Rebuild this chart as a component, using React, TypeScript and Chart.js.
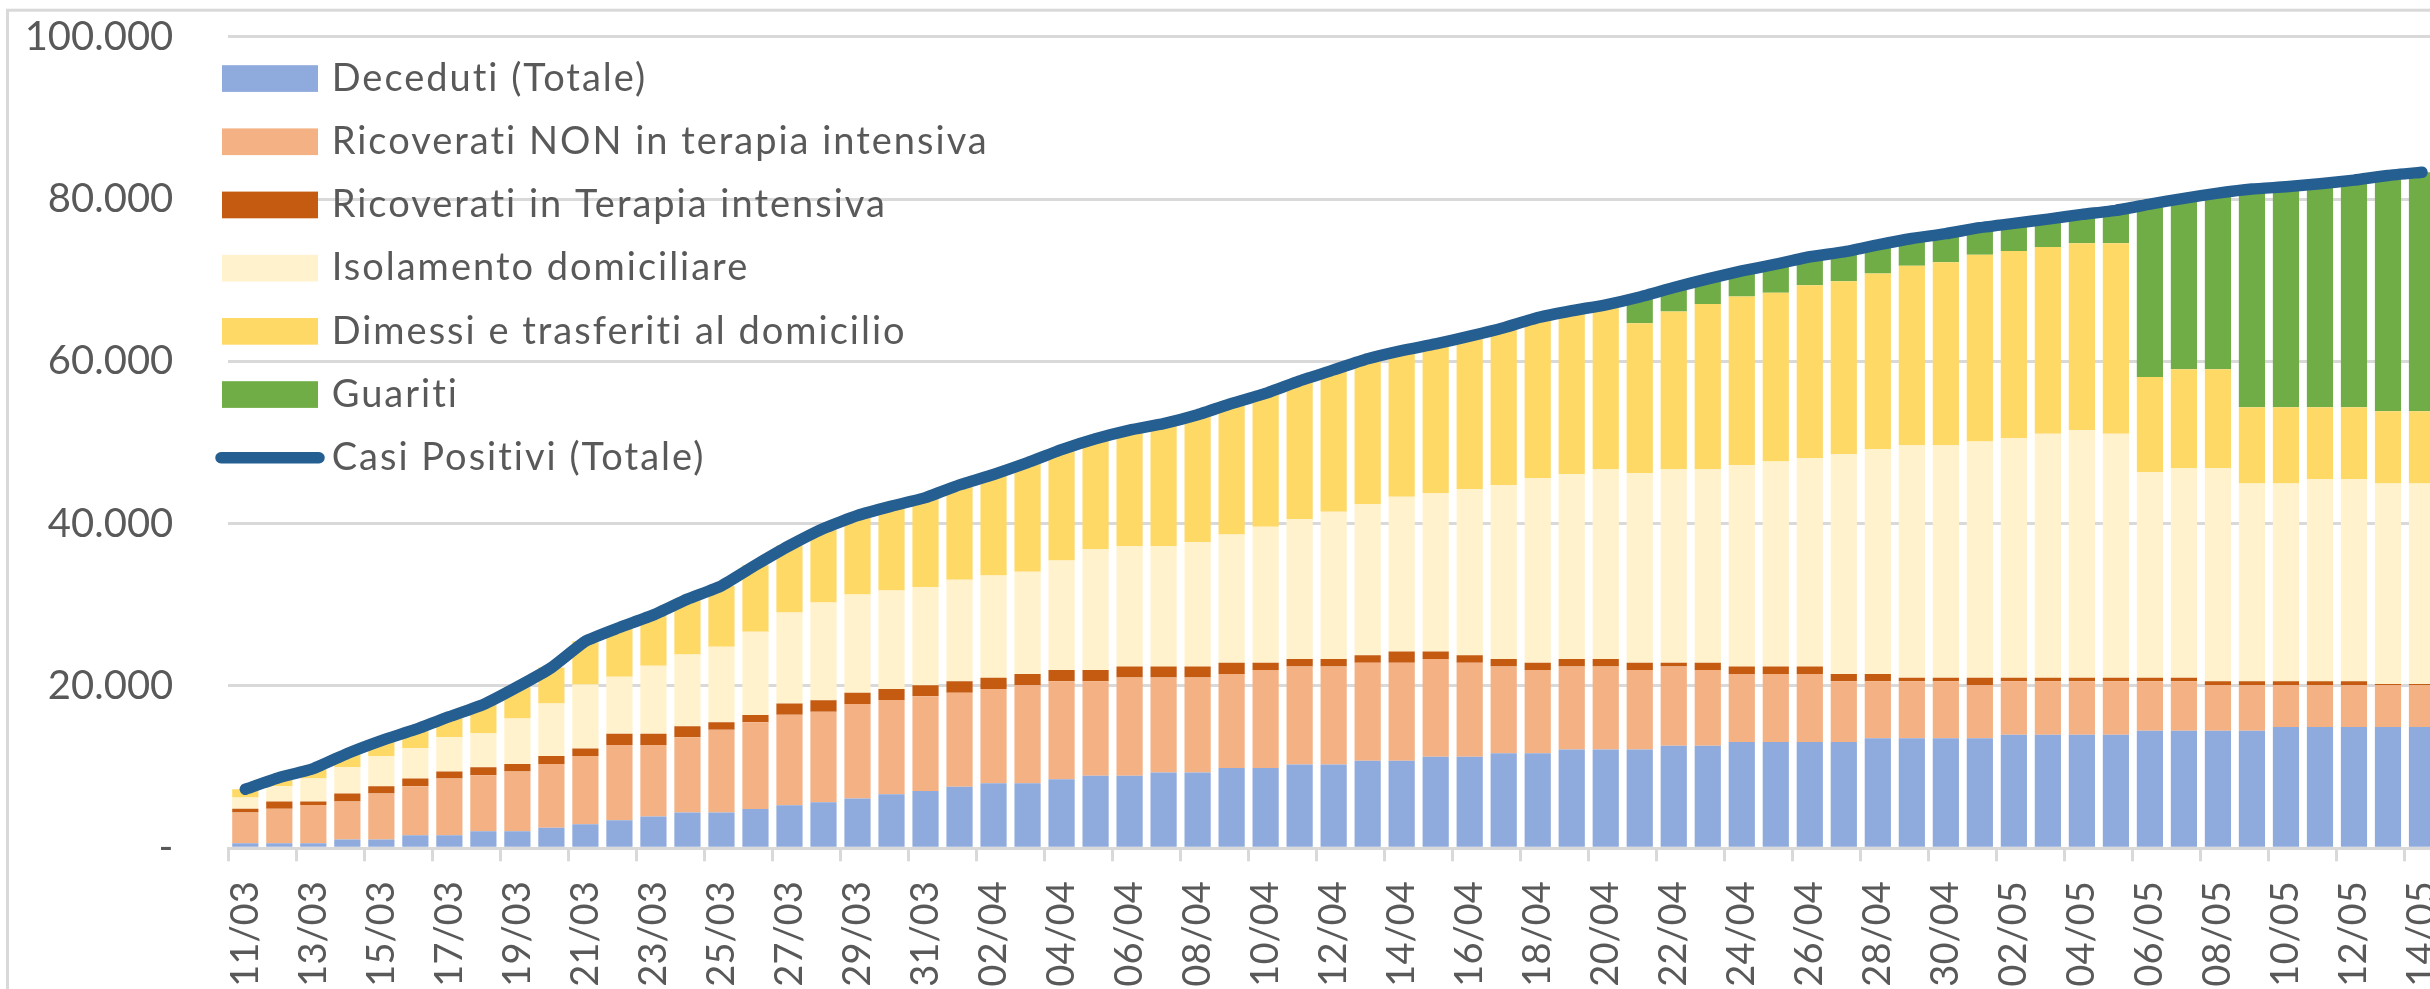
import React, { useEffect, useRef } from 'react';
import { Chart, registerables } from 'chart.js';

Chart.register(...registerables);

const dates = [
  '11/03', '12/03', '13/03', '14/03', '15/03', '16/03', '17/03', '18/03', '19/03', '20/03',
  '21/03', '22/03', '23/03', '24/03', '25/03', '26/03', '27/03', '28/03', '29/03', '30/03',
  '31/03', '01/04', '02/04', '03/04', '04/04', '05/04', '06/04', '07/04', '08/04', '09/04',
  '10/04', '11/04', '12/04', '13/04', '14/04', '15/04', '16/04', '17/04', '18/04', '19/04',
  '20/04', '21/04', '22/04', '23/04', '24/04', '25/04', '26/04', '27/04', '28/04', '29/04',
  '30/04', '01/05', '02/05', '03/05', '04/05', '05/05', '06/05', '07/05', '08/05', '09/05',
  '10/05', '11/05', '12/05', '13/05', '14/05',
];

const deceduti = [
  630, 630, 630, 1090, 1090, 1600, 1600, 2100, 2100, 2530,
  2950, 3450, 3920, 4420, 4420, 4840, 5310, 5680, 6150, 6650,
  7070, 7580, 8000, 8000, 8500, 8930, 8930, 9350, 9350, 9890,
  9890, 10320, 10320, 10780, 10780, 11280, 11280, 11700, 11700, 12170,
  12170, 12170, 12630, 12630, 13090, 13090, 13090, 13090, 13560, 13560,
  13560, 13560, 14000, 14000, 14000, 14000, 14480, 14480, 14480, 14480,
  14950, 14950, 14950, 14950, 14950,
];

const ricoveratiNon = [
  3790, 4250, 4720, 4680, 5650, 6060, 6990, 6910, 7370, 7870,
  8420, 9270, 8800, 9260, 10190, 10700, 11150, 11160, 11620, 11620,
  11670, 11580, 11620, 12080, 12090, 11660, 12120, 11700, 11700, 11580,
  12090, 12080, 12080, 12080, 12080, 12050, 11580, 10700, 10280, 10230,
  10230, 9810, 9770, 9350, 8380, 8380, 8380, 7500, 7030, 7030,
  7030, 6520, 6590, 6590, 6590, 6590, 6110, 6110, 5600, 5600,
  5130, 5130, 5130, 5130, 5130,
];

const terapiaIntensiva = [
  460, 890, 420, 970, 920, 930, 880, 970, 930, 970,
  920, 1380, 1380, 1350, 930, 880, 1390, 1390, 1390, 1350,
  1340, 1430, 1380, 1390, 1390, 1390, 1350, 1350, 1350, 1390,
  880, 930, 930, 930, 1390, 920, 930, 930, 880, 930,
  930, 880, 460, 880, 930, 930, 930, 880, 880, 420,
  420, 930, 420, 420, 420, 420, 420, 420, 510, 510,
  510, 510, 510, 150, 150,
];

const isolamento = [
  1390, 1890, 2820, 3280, 3710, 3750, 4210, 4210, 5600, 6480,
  7880, 7040, 8380, 8840, 9300, 10270, 11200, 12070, 12120, 12130,
  12120, 12510, 12600, 12590, 13470, 14860, 14860, 14860, 15330, 15790,
  16760, 17220, 18140, 18610, 19080, 19540, 20460, 21390, 22780, 22770,
  23370, 23340, 23840, 23840, 24800, 25250, 25700, 27080, 27710, 28670,
  28670, 29120, 29540, 30080, 30490, 30080, 25320, 25820, 26240, 24370,
  24370, 24870, 24870, 24730, 24730,
];

const dimessi = [
  1010, 1065, 1230, 1665, 1902, 2309, 2540, 3523, 3884, 4414,
  5345, 6066, 6281, 6833, 7506, 8199, 8248, 9115, 9727, 10411,
  11008, 11673, 12465, 13460, 13668, 13615, 14274, 15065, 15684, 16152,
  16428, 17042, 17476, 17914, 17996, 18363, 18844, 19415, 19741, 20136,
  20271, 18490, 19440, 20350, 20800, 20810, 21270, 21320, 21640, 22090,
  22540, 23000, 23040, 22990, 23040, 23450, 11750, 12200, 12200, 9390,
  9390, 8890, 8890, 8900, 8900,
];

const guariti = [
  0, 0, 0, 0, 0, 0, 0, 0, 0, 0,
  0, 0, 0, 0, 0, 0, 0, 0, 0, 0,
  0, 0, 0, 0, 0, 0, 0, 0, 0, 0,
  0, 0, 0, 0, 0, 0, 0, 0, 0, 0,
  0, 3241, 2952, 3115, 3140, 3509, 3519, 3609, 3528, 3364,
  3512, 3339, 3412, 3448, 3565, 4065, 21289, 21059, 21693, 26875,
  27157, 27521, 27974, 29044, 29438,
];

const casiPositivi = [
  7280, 8725, 9820, 11685, 13272, 14649, 16220, 17713, 19884, 22264,
  25515, 27206, 28761, 30703, 32346, 34889, 37298, 39415, 41007, 42161,
  43208, 44773, 46065, 47520, 49118, 50455, 51534, 52325, 53414, 54802,
  56048, 57592, 58946, 60314, 61326, 62153, 63094, 64135, 65381, 66236,
  66971, 67931, 69092, 70165, 71140, 71969, 72889, 73479, 74348, 75134,
  75732, 76469, 77002, 77528, 78105, 78605, 79369, 80089, 80723, 81225,
  81507, 81871, 82324, 82904, 83298,
];

const yTicks = [0, 20000, 40000, 60000, 80000, 100000];

const W = 2460;
const H = 1000;
const TEXT = '#595959';
const GRID = '#D9D9D9';

function fmt(v: number): string {
  if (v === 0) return '-';
  return String(v).replace(/\B(?=(\d{3})+(?!\d))/g, '.');
}

const framePlugin = {
  id: 'frame',
  beforeDraw(chart: any) {
    const ctx = chart.ctx;
    ctx.save();
    ctx.fillStyle = '#ffffff';
    ctx.fillRect(0, 0, chart.width, chart.height);
    ctx.strokeStyle = GRID;
    ctx.lineWidth = 3;
    ctx.strokeRect(7.5, 10.2, chart.width + 20, chart.height + 20);
    ctx.restore();
  },
};

const legendPlugin = {
  id: 'customLegend',
  afterDraw(chart: any) {
    const ctx = chart.ctx;
    ctx.save();
    ctx.font = '38px Lato';
    try {
      (ctx as any).letterSpacing = '2px';
    } catch (e) {
      /* ignore */
    }
    ctx.textBaseline = 'middle';
    ctx.textAlign = 'left';
    chart.data.datasets.forEach((ds: any, i: number) => {
      const cy = 78.5 + i * 63.2;
      if (ds.type === 'line') {
        ctx.strokeStyle = ds.borderColor;
        ctx.lineWidth = 11.5;
        ctx.lineCap = 'round';
        ctx.beginPath();
        ctx.moveTo(221, cy);
        ctx.lineTo(319, cy);
        ctx.stroke();
      } else {
        ctx.fillStyle = ds.backgroundColor;
        ctx.fillRect(222, cy - 13.3, 96, 26.7);
      }
      ctx.fillStyle = TEXT;
      ctx.fillText(ds.label, 331.7, cy);
    });
    ctx.restore();
  },
};

export default function App() {
  const ref = useRef<HTMLCanvasElement>(null);

  useEffect(() => {
    const canvas = ref.current;
    if (!canvas) return;
    const bar = (label: string, data: number[], color: string) => ({
      type: 'bar' as const,
      label,
      data,
      backgroundColor: color,
      borderWidth: 0,
      barPercentage: 0.77,
      categoryPercentage: 1.0,
      order: 1,
      stack: 'bars',
    });
    const chart = new Chart(canvas, {
      data: {
        labels: dates,
        datasets: [
          bar('Deceduti (Totale)', deceduti, '#8FAADC'),
          bar('Ricoverati NON in terapia intensiva', ricoveratiNon, '#F4B183'),
          bar('Ricoverati in Terapia intensiva', terapiaIntensiva, '#C55A11'),
          bar('Isolamento domiciliare', isolamento, '#FFF2CC'),
          bar('Dimessi e trasferiti al domicilio', dimessi, '#FFD966'),
          bar('Guariti', guariti, '#70AD47'),
          {
            type: 'line' as const,
            label: 'Casi Positivi (Totale)',
            data: casiPositivi,
            borderColor: '#255E91',
            backgroundColor: '#255E91',
            borderWidth: 11.5,
            pointRadius: 0,
            borderCapStyle: 'round',
            borderJoinStyle: 'round',
            tension: 0.15,
            order: 0,
            stack: 'line',
          } as any,
        ],
      },
      options: {
        responsive: false,
        maintainAspectRatio: false,
        animation: false,
        devicePixelRatio: 1,
        layout: { padding: { left: 0, top: 36.7, right: W - 2439, bottom: 0 } },
        plugins: {
          legend: { display: false },
          tooltip: { enabled: false },
        },
        scales: {
          x: {
            stacked: true,
            offset: true,
            grid: {
              display: true,
              offset: true,
              drawOnChartArea: false,
              drawTicks: true,
              tickLength: 13,
              tickWidth: 3,
              lineWidth: 3,
              tickColor: (c: any) => (typeof c.index === 'number' && c.index % 2 === 0 ? GRID : 'rgba(0,0,0,0)'),
              color: GRID,
            },
            border: { display: true, color: GRID, width: 3 },
            ticks: {
              autoSkip: false,
              maxRotation: 90,
              minRotation: 90,
              padding: 20,
              color: TEXT,
              font: { family: 'Lato', size: 38 },
              callback: (_v: any, i: number) => (i % 2 === 0 ? dates[i] : ''),
            },
            afterFit: (s: any) => {
              s.height = H - 848.3;
              s.paddingLeft = 0;
              s.paddingRight = 0;
            },
          },
          y: {
            stacked: true,
            min: yTicks[0],
            max: yTicks[yTicks.length - 1],
            grid: { color: GRID, lineWidth: 3, drawTicks: false },
            border: { display: false },
            ticks: {
              stepSize: yTicks[1] - yTicks[0],
              padding: 55,
              color: TEXT,
              font: { family: 'Lato', size: 40 },
              callback: (v: any) => fmt(Number(v)),
            },
            afterFit: (s: any) => {
              s.width = 228.3;
              s.paddingTop = 0;
              s.paddingBottom = 0;
            },
          },
        },
      } as any,
      plugins: [framePlugin, legendPlugin],
    });
    return () => chart.destroy();
  }, []);

  return (
    <div
      style={{
        position: 'fixed',
        left: 0,
        top: 0,
        width: 2430,
        height: 989,
        overflow: 'hidden',
        background: '#ffffff',
      }}
    >
      <canvas
        ref={ref}
        width={W}
        height={H}
        style={{ position: 'absolute', left: 0, top: 0, width: W, height: H }}
      />
    </div>
  );
}
